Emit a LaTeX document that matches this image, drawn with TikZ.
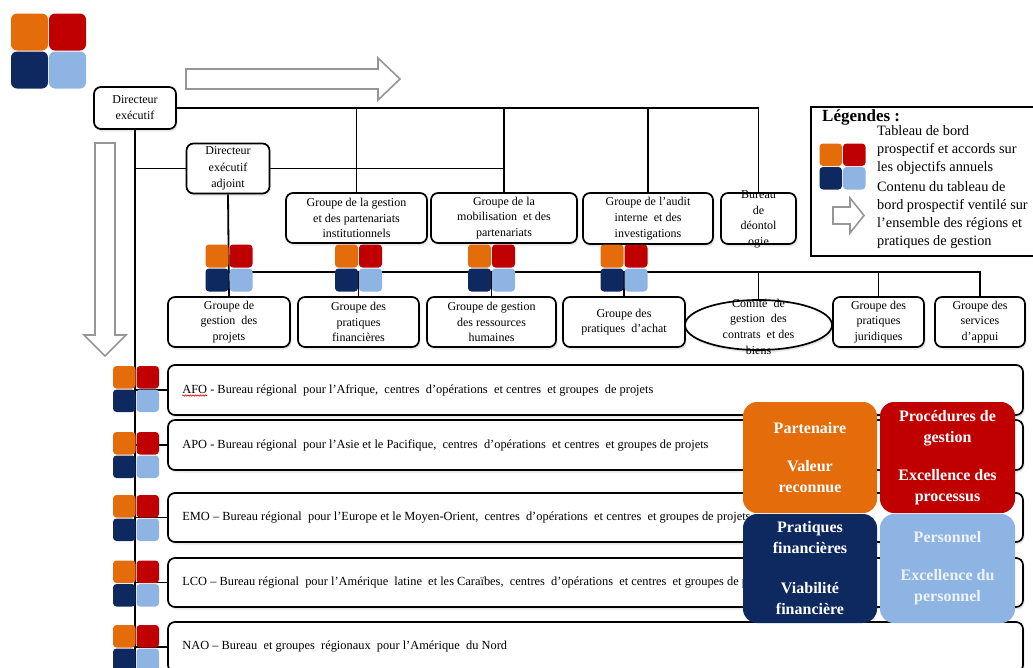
\documentclass[tikz,border=0pt]{standalone}
\usepackage{fontspec}
\setmainfont{Liberation Serif}
\usetikzlibrary{shapes.geometric,shadows,decorations.pathmorphing,backgrounds}
\definecolor{orgC}{RGB}{228,108,10}
\definecolor{redC}{RGB}{192,0,0}
\definecolor{navC}{RGB}{14,40,96}
\definecolor{lbC}{RGB}{142,180,227}
\definecolor{arrC}{RGB}{150,150,150}
\definecolor{lbT}{RGB}{238,243,250}
\tikzset{
 box/.style={draw, line width=1.7pt, rounded corners=7pt, fill=white, inner sep=0pt, align=center,
   font=\fontsize{12}{15.7}\selectfont,
   drop shadow={opacity=0.18, shadow xshift=1.5pt, shadow yshift=-2.5pt}},
 lbl/.style={inner sep=0pt, align=center, font=\fontsize{12}{15.7}\selectfont},
 rowbox/.style={box, minimum width=855, minimum height=49},
 rowtxt/.style={inner sep=0pt, anchor=west, font=\fontsize{12.4}{14}\selectfont},
 conn/.style={line width=1.8pt},
 bigq/.style={rounded corners=14pt, inner sep=0pt, align=center, text=white,
   font=\bfseries\fontsize{16}{21}\selectfont},
 hollow/.style={draw=arrC, line width=1.6pt, fill=white, line join=miter},
 legtxt/.style={anchor=west, inner sep=0pt, align=left, font=\fontsize{14.3}{18}\selectfont},
 pics/bsc/.style args={#1/#2}{code={
   \fill[orgC,rounded corners=#2] (-#1-0.5,-#1-0.5) rectangle (-0.5,-0.5);
   \fill[redC,rounded corners=#2] (0.5,-#1-0.5) rectangle (#1+0.5,-0.5);
   \fill[navC,rounded corners=#2] (-#1-0.5,0.5) rectangle (-0.5,#1+0.5);
   \fill[lbC,rounded corners=#2] (0.5,0.5) rectangle (#1+0.5,#1+0.5);
 }},
}
\begin{document}
\begin{tikzpicture}[x=1pt,y=-1pt]
\useasboundingbox (0,0) rectangle (1033,667);

% logo and arrows
\pic at (48.5,51) {bsc=37/6pt};
\draw[hollow] (186,69) -- (378,69) -- (378,58) -- (400,79) -- (378,100) -- (378,89) -- (186,89) -- cycle;
\draw[hollow] (95,143) -- (115,143) -- (115,335) -- (126,335) -- (105,356) -- (84,335) -- (95,335) -- cycle;

% top level
\node[box, minimum width=82, minimum height=42, font=\fontsize{12}{16}\selectfont] (de) at (135,108) {Directeur\\exécutif};
\node[box, minimum width=83, minimum height=50, font=\fontsize{12}{16.5}\selectfont] (dea) at (228,168.5) {Directeur\\exécutif\\adjoint};

% row 1
\node[box, minimum width=141, minimum height=50] (gp1) at (356.5,218) {Groupe de la gestion\\et des partenariats\\institutionnels};
\node[box, minimum width=146, minimum height=50] (gp2) at (504,218) {Groupe de la\\mobilisation\ \ et des\\partenariats};
\node[box, minimum width=130, minimum height=51] (audit) at (648,218.5) {Groupe de l’audit\\interne\ \ et des\\investigations};
\node[box, minimum width=75, minimum height=51] (bureau) at (758.5,218.5) {};
\node[lbl] (bureaut) at (758.5,219.5) {Bureau\\de\\déontol\\ogie};

% row 2
\coordinate (bus2) at (229,272);
\node[box, minimum width=122, minimum height=50] (gproj) at (229,322) {Groupe de\\gestion\ \ des\\projets};
\node[box, minimum width=121, minimum height=50] (gfin) at (358.5,322) {Groupe des\\pratiques\\financières};
\node[box, minimum width=129, minimum height=50] (grh) at (491.5,322) {Groupe de gestion\\des ressources\\humaines};
\node[box, minimum width=122, minimum height=50] (gach) at (624,322) {Groupe des\\pratiques\ \ d’achat};
\node[draw, ellipse, line width=1.7pt, fill=white, inner sep=0pt, minimum width=147, minimum height=50,
  drop shadow={opacity=0.18, shadow xshift=1.5pt, shadow yshift=-2.5pt}] (comite) at (758.5,325) {};
\node[lbl] (comitet) at (758.5,326.5) {Comité\ \ de\\gestion\ \ des\\contrats\ \ et des\\biens};
\node[box, minimum width=91, minimum height=50] (gjur) at (878.5,322) {Groupe des\\pratiques\\juridiques};
\node[box, minimum width=90, minimum height=50] (gserv) at (980,322) {Groupe des\\services\\d’appui};

% regional rows
\node[rowbox, minimum height=50] (afo) at (595.5,390) {};
\node[rowbox, minimum height=50] (apo) at (595.5,445) {};
\node[rowbox] (emo) at (595.5,517.5) {};
\node[rowbox] (lco) at (595.5,582.5) {};
\node[rowbox, minimum height=50] (nao) at (595.5,647) {};
\node[rowtxt] (afot) at ([xshift=15pt]afo.west) {AFO - Bureau régional\ \ pour l’Afrique,\ \ centres\ \ d’opérations\ \ et centres\ \ et groupes\ \ de projets};
\node[rowtxt] (apot) at ([xshift=15pt]apo.west) {APO - Bureau régional\ \ pour l’Asie et le Pacifique,\ \ centres\ \ d’opérations\ \ et centres\ \ et groupes de projets};
\node[rowtxt] (emot) at ([xshift=15pt]emo.west) {EMO – Bureau régional\ \ pour l’Europe et le Moyen-Orient,\ \ centres\ \ d’opérations\ \ et centres\ \ et groupes de projets};
\node[rowtxt] (lcot) at ([xshift=15pt]lco.west) {LCO – Bureau régional\ \ pour l’Amérique\ \ latine\ \ et les Caraïbes,\ \ centres\ \ d’opérations\ \ et centres\ \ et groupes de projets};
\node[rowtxt] (naot) at ([xshift=15pt]nao.west) {NAO – Bureau\ \ et groupes\ \ régionaux\ \ pour l’Amérique\ \ du Nord};
\draw[red!85!black, line width=0.6pt, decorate, decoration={snake, amplitude=0.7pt, segment length=2.5pt}]
  ([yshift=-2.5pt]afot.base west) -- ++(25,0);

\coordinate (bot) at (135,670);

% connectors
\begin{scope}[on background layer]
\draw[conn] (de.east) -| (bureau.north);
\draw[conn] (gp1.north) -- (gp1.north |- de.east);
\draw[conn] (gp2.north) -- (gp2.north |- de.east);
\draw[conn] (audit.north) -- (audit.north |- de.east);
\draw[conn] (de.south) -- (bot);
\draw[conn] (dea.west) -- (dea.west -| de.south);
\draw[conn] (dea.east) -- (dea.east -| gp2.north);
\draw[conn] (dea.south) -- (gproj.north);
\draw[conn] (bus2) -- (bus2 -| gserv.north) -- (gserv.north);
\draw[conn] (gfin.north) -- (gfin.north |- bus2);
\draw[conn] (grh.north) -- (grh.north |- bus2);
\draw[conn] (gach.north) -- (gach.north |- bus2);
\draw[conn] (comite.north) -- (comite.north |- bus2);
\draw[conn] (gjur.north) -- (gjur.north |- bus2);
\draw[conn] (afo.west) -- (afo.west -| de.south);
\draw[conn] (apo.west) -- (apo.west -| de.south);
\draw[conn] (emo.west) -- (emo.west -| de.south);
\draw[conn] (lco.west) -- (lco.west -| de.south);
\draw[conn] (nao.west) -- (nao.west -| de.south);
\end{scope}

% scorecard squares on the lines
\pic at (229,268) {bsc=23/3.5pt};
\pic at (358.5,268) {bsc=23/3.5pt};
\pic at (491.5,268) {bsc=23/3.5pt};
\pic at (624,268) {bsc=23/3.5pt};
\pic at (136,389) {bsc=22.5/3.5pt};
\pic at (136,455) {bsc=22.5/3.5pt};
\pic at (136,518) {bsc=22.5/3.5pt};
\pic at (136,583.5) {bsc=22.5/3.5pt};
\pic at (136,648) {bsc=22.5/3.5pt};

% legend
\node[draw, line width=1.7pt, minimum width=240, minimum height=149, anchor=north west, inner sep=0pt] (leg) at (810,106) {};
\node[anchor=west, inner sep=0pt, font=\bfseries\fontsize{17}{20}\selectfont] (legtitle) at (822,117) {Légendes :};
\pic at (842.5,166.5) {bsc=22.5/3.5pt};
\node[legtxt] (leg1) at (877,150) {Tableau de bord\\prospectif et accords sur\\les objectifs annuels};
\draw[hollow] (833,207) -- (850,207) -- (850,198) -- (864,215.5) -- (850,233) -- (850,224) -- (833,224) -- cycle;
\node[legtxt] (leg2) at (877,215.5) {Contenu du tableau de\\bord prospectif ventilé sur\\l’ensemble des régions et\\pratiques de gestion};

% big scorecard
\node[bigq, fill=orgC, minimum width=134, minimum height=111] (qp) at (810,457.5) {Partenaire\\[17pt]Valeur\\reconnue};
\node[bigq, fill=redC, minimum width=135, minimum height=111] (qg) at (947.5,457.5) {Procédures de\\gestion\\[17pt]Excellence des\\processus};
\node[bigq, fill=navC, minimum width=134, minimum height=109] (qf) at (810,568.5) {Pratiques\\financières\\[19pt]Viabilité\\financière};
\node[bigq, fill=lbC, text=lbT, minimum width=135, minimum height=109] (qs) at (947.5,568.5) {Personnel\\[17pt]Excellence du\\personnel};
\end{tikzpicture}
\end{document}
